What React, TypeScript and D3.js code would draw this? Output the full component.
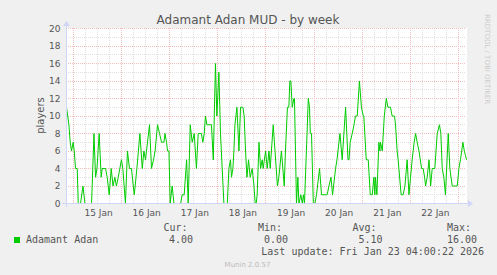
import React from 'react';
import * as d3 from 'd3';

// hours relative to 15 Jan 00:00 and players at that time
const sampleHours = [
  -3.5, -2.3, -1.65, -1.0, -0.15, 0.35, 1.0, 1.85, 2.35, 3.5, 4.7, 5.7, 9.0, 10.2, 11.0, 11.7, 12.8, 13.8, 14.3, 16.0,
  16.8, 17.8, 18.8, 19.7, 20.6, 21.4, 22.3, 23.1, 23.9, 24.6, 25.9, 26.9, 27.9, 28.9, 29.8, 30.3, 31.6, 33.1, 34.3, 35.1,
  35.9, 36.9, 37.9, 38.9, 39.9, 40.7, 41.9, 42.9, 43.9, 45.1, 45.6, 46.4, 46.9, 47.6, 48.2, 49.2, 50.1, 53.4, 54.2, 55.2,
  56.4, 57.2, 58.2, 59.2, 60.2, 61.3, 62.2, 63.8, 64.5, 65.2, 65.8, 66.5, 68.8, 69.7, 70.8, 71.5, 72.5, 73.3, 75.0, 76.7,
  77.5, 78.3, 78.8, 79.5, 80.0, 80.5, 81.0, 81.5, 82.5, 83.3, 84.5, 85.1, 85.8, 86.5, 87.3, 88.1, 89.1, 90.0, 90.6, 91.1,
  91.6, 92.5, 93.3, 94.1, 94.6, 95.8, 96.6, 97.5, 98.1, 99.6, 100.2, 101.7, 102.4, 103.7, 105.1, 105.7, 106.7, 107.4, 107.9, 108.4,
  109.1, 109.9, 110.2, 111.2, 111.9, 112.4, 113.4, 114.1, 114.7, 115.2, 117.1, 117.7, 118.1, 118.7, 119.6, 120.4, 121.2, 122.7, 123.7, 126.5,
  127.4, 128.4, 129.2, 130.7, 131.4, 132.9, 134.0, 135.7, 136.9, 137.4, 138.0, 139.0, 139.9, 140.6, 141.5, 142.6, 143.6, 144.5, 144.8, 146.0,
  147.0, 148.0, 149.0, 149.8, 150.3, 150.6, 151.3, 152.3, 152.8, 153.1, 154.0, 155.0, 156.0, 156.8, 158.1, 158.9, 160.1, 160.6, 161.4, 161.9,
  163.4, 164.4, 165.3, 166.4, 167.3, 168.1, 168.9, 169.9, 170.6, 171.4, 172.3, 173.6, 174.4, 175.1, 175.6, 176.4, 177.3, 178.1, 178.9, 180.2,
  181.4, 182.5, 183.2, 183.9, 184.7, 185.5, 186.9, 187.7, 188.9, 191.4, 192.2, 193.0, 194.2, 194.9, 195.5, 196.0,
];
const players = [
  11, 9, 7, 6, 7, 6, 4, 4, 0, 0, 2, 0, 0, 8, 3, 4, 8, 3, 4, 4,
  3, 1, 4, 2, 3, 2, 3, 4, 5, 4, 0, 6, 4, 4, 2, 1, 4, 8, 4, 6,
  5, 7, 9, 4, 5, 6, 9, 8, 7, 7, 8, 7, 6, 6, 0, 2, 0, 0, 1, 1,
  5, 0, 9, 7, 8, 4, 8, 8, 7, 8, 10, 9, 9, 5, 16, 10, 15, 8, 0, 0,
  4, 5, 3, 4, 6, 9, 10, 11, 6, 11, 11, 10, 6, 3, 5, 3, 4, 2, 0, 0,
  1, 7, 4, 5, 4, 6, 4, 6, 4, 9, 7, 2, 3, 6, 2, 6, 11, 11, 14, 14,
  11, 12, 12, 0, 3, 0, 1, 0, 1, 0, 12, 11, 8, 8, 0, 0, 1, 4, 1, 1,
  2, 3, 1, 4, 5, 8, 5, 11, 5, 5, 7, 8, 9, 10, 10, 14, 11, 10, 10, 5,
  5, 1, 1, 3, 1, 3, 1, 7, 6, 7, 6, 10, 12, 11, 11, 10, 10, 9, 6, 5,
  1, 1, 2, 5, 1, 3, 5, 7, 8, 7, 6, 4, 4, 3, 2, 3, 5, 2, 4, 4,
  8, 9, 8, 4, 3, 1, 8, 4, 2, 2, 4, 5, 7, 6, 5.5, 5,
];

const dayLabels = ['15 Jan', '16 Jan', '17 Jan', '18 Jan', '19 Jan', '20 Jan', '21 Jan', '22 Jan'];
const yTickValues = [0, 2, 4, 6, 8, 10, 12, 14, 16, 18, 20];
const legendHeaders = ['Cur:', 'Min:', 'Avg:', 'Max:'];
const legendValues = ['4.00', '0.00', '5.10', '16.00'];
const seriesName = 'Adamant Adan';
const title = 'Adamant Adan MUD - by week';
const lastUpdate = 'Last update: Fri Jan 23 04:00:22 2026';

const W = 497;
const H = 275;
const X0 = 66;
const XS = 400;
const Y0 = 203;
const YS = 175;

const base = Date.UTC(2026, 0, 15, 0, 0, 0);
const hourMs = 3600 * 1000;
const tDate = (h: number) => new Date(base + h * hourMs);

export default function App() {
  const x = d3.scaleUtc().domain([tDate(-3.5), tDate(196)]).range([X0 + 0.5, X0 + XS + 0.5]);
  const y = d3.scaleLinear().domain([0, 20]).range([Y0 + 0.5, Y0 - YS + 0.5]);
  const snap = (v: number) => Math.round(v - 0.5) + 0.5;

  const data = sampleHours.map((h, i) => ({ t: tDate(h), v: players[i] }));
  const line = d3.line<{ t: Date; v: number }>().x((d) => x(d.t)).y((d) => y(d.v));

  const minorY = d3.range(1, 20, 2);
  const majorY = yTickValues.filter((v) => v > 0);
  const sixHours = d3.utcHour.every(6)!.range(tDate(-3.5), tDate(196.01));
  const minorX = sixHours.filter((d) => d.getUTCHours() !== 0);
  const majorX = d3.utcDay.range(tDate(-3.5), tDate(196.01));

  const font = "'DejaVu Sans', sans-serif";
  const mono = "'DejaVu Sans Mono', monospace";
  const textColor = '#555555';
  const axisColor = '#CFD6F8';
  const minorColor = '#E0E0E0';
  const majorColor = '#F2BDBD';
  const headerX = [163.5, 258, 352.5, 447];
  const valueX = [169, 264, 358.5, 447];

  return (
    <svg width={W} height={H} style={{ position: 'absolute', left: 0, top: 0 }} xmlns="http://www.w3.org/2000/svg">
      <rect x={0} y={0} width={W} height={H} fill="#F0F0F0" />
      <rect x={X0} y={Y0 - YS} width={XS + 1} height={YS + 1} fill="#FFFFFF" />
      <text x={248} y={23.5} textAnchor="middle" fontFamily={font} fontSize={12} fill={textColor}>{title}</text>
      <text transform="translate(485,14) rotate(90)" fontFamily={font} fontSize={7} fill="#CCCCCC">RRDTOOL / TOBI OETIKER</text>

      {/* minor grid */}
      {minorY.map((v) => (
        <line key={'my' + v} x1={X0} x2={X0 + XS} y1={snap(y(v))} y2={snap(y(v))} stroke={minorColor} strokeDasharray="1,1" strokeWidth={1} />
      ))}
      {minorX.map((d) => (
        <line key={'mx' + d.getTime()} x1={snap(x(d))} x2={snap(x(d))} y1={Y0 - YS} y2={Y0} stroke={minorColor} strokeDasharray="1,1" strokeWidth={1} />
      ))}
      {/* major grid */}
      {majorY.map((v) => (
        <line key={'My' + v} x1={X0} x2={X0 + XS} y1={snap(y(v))} y2={snap(y(v))} stroke={majorColor} strokeDasharray="1,1" strokeWidth={1} />
      ))}
      {majorX.map((d) => (
        <line key={'Mx' + d.getTime()} x1={snap(x(d))} x2={snap(x(d))} y1={Y0 - YS} y2={Y0} stroke={majorColor} strokeDasharray="1,1" strokeWidth={1} />
      ))}

      {/* y tick labels */}
      {yTickValues.map((v) => (
        <text key={'yl' + v} x={60.5} y={y(v) + 3.3} textAnchor="end" fontFamily={font} fontSize={9} fill={textColor}>{v}</text>
      ))}
      {/* x tick labels at noon */}
      {majorX.slice(0, dayLabels.length).map((d, i) => (
        <text key={'xl' + i} x={x(new Date(d.getTime() + 12 * hourMs)) + 1} y={215.5} textAnchor="middle" fontFamily={font} fontSize={9} fill={textColor}>{dayLabels[i]}</text>
      ))}

      <text transform={`translate(44,${(Y0 - YS / 2).toFixed(1)}) rotate(-90)`} textAnchor="middle" fontFamily={font} fontSize={10} fill={textColor}>players</text>

      {/* data */}
      <path d={line(data) || ''} fill="none" stroke="#00CC00" strokeWidth={1} />

      {/* axes */}
      <line x1={X0 - 4} x2={X0 + XS + 4} y1={Y0 + 0.5} y2={Y0 + 0.5} stroke={axisColor} strokeWidth={1} />
      <line x1={X0 + 0.5} x2={X0 + 0.5} y1={Y0 + 4} y2={Y0 - YS - 4} stroke={axisColor} strokeWidth={1} />
      <polygon points={`${X0 + XS + 2},${Y0 - 3} ${X0 + XS + 2},${Y0 + 4} ${X0 + XS + 7},${Y0 + 0.5}`} fill={axisColor} />
      <polygon points={`${X0 - 3},${Y0 - YS - 2} ${X0 + 4},${Y0 - YS - 2} ${X0 + 0.5},${Y0 - YS - 7}`} fill={axisColor} />

      {/* legend */}
      {legendHeaders.map((h, i) => (
        <text key={'lh' + i} x={headerX[i]} y={230.5} fontFamily={mono} fontSize={10} fill={textColor}>{h}</text>
      ))}
      <rect x={14} y={237} width={6} height={6} fill="#00CC00" />
      <text x={26} y={242.5} fontFamily={mono} fontSize={10} fill={textColor}>{seriesName}</text>
      {legendValues.map((v, i) => (
        <text key={'lv' + i} x={valueX[i]} y={242.5} fontFamily={mono} fontSize={10} fill={textColor}>{v}</text>
      ))}
      <text x={261.3} y={255} fontFamily={mono} fontSize={10} fill={textColor}>{lastUpdate}</text>
      <text x={247.5} y={266.5} textAnchor="middle" fontFamily={font} fontSize={7} fill="#BBBBBB">Munin 2.0.57</text>
    </svg>
  );
}
